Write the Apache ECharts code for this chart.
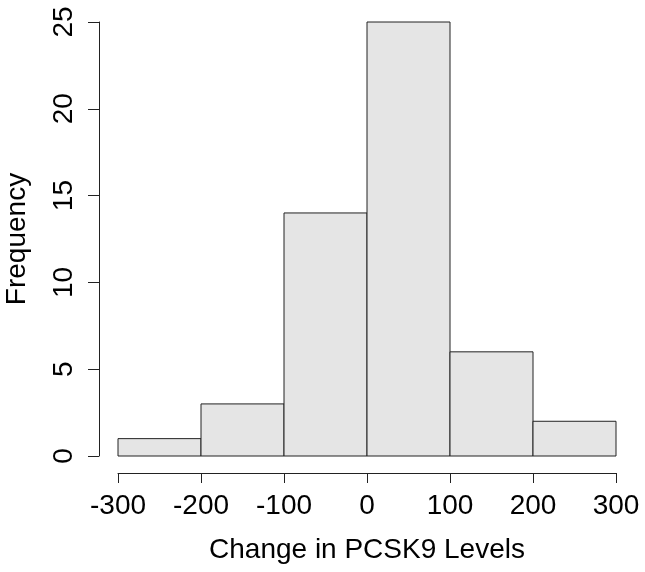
<!DOCTYPE html>
<html>
<head>
<meta charset="utf-8">
<script src="https://cdn.jsdelivr.net/npm/echarts@6/dist/echarts.min.js"></script>
<style>
  html, body { margin: 0; padding: 0; background: #fff; }
  #chart { width: 645px; height: 572px; }
</style>
</head>
<body>
<div id="chart"></div>
<script>
// histogram bins (lower, upper) and counts
const binStarts = [-300, -200, -100, 0, 100, 200];
const binEnds = [-200, -100, 0, 100, 200, 300];
const counts = [1, 3, 14, 25, 6, 2];

const font = "Liberation Sans, Arial, sans-serif";
const ink = "#222";

const chart = echarts.init(document.getElementById("chart"), null, { renderer: "canvas" });

const bins = binStarts.map((s, i) => [s, binEnds[i], counts[i]]);

chart.setOption({
  animation: false,
  backgroundColor: "#fff",
  grid: { left: 118, right: 29, top: 22, bottom: 116, containLabel: false, outerBoundsMode: "none" },
  xAxis: {
    type: "value",
    min: -300,
    max: 300,
    interval: 100,
    offset: 17,
    name: "Change in PCSK9 Levels",
    nameLocation: "middle",
    nameGap: 63,
    nameTextStyle: { color: "#000", fontSize: 28, fontFamily: font },
    axisLine: { show: true, onZero: false, lineStyle: { color: ink, width: 1 } },
    axisTick: { show: true, length: 10, lineStyle: { color: ink } },
    axisLabel: { color: "#000", fontSize: 28, fontFamily: font, margin: 19 },
    splitLine: { show: false },
  },
  yAxis: {
    type: "value",
    min: 0,
    max: 25,
    interval: 5,
    offset: 19,
    name: "Frequency",
    nameLocation: "middle",
    nameGap: 68,
    nameTextStyle: { color: "#000", fontSize: 28, fontFamily: font },
    axisLine: { show: true, onZero: false, lineStyle: { color: ink, width: 1 } },
    axisTick: { show: true, length: 11, lineStyle: { color: ink } },
    axisLabel: { color: "#000", fontSize: 28, fontFamily: font, rotate: 90, margin: 21 },
    splitLine: { show: false },
  },
  series: [
    {
      type: "custom",
      data: bins,
      encode: { x: [0, 1], y: 2 },
      renderItem: function (params, api) {
        const p0 = api.coord([api.value(0), api.value(2)]);
        const p1 = api.coord([api.value(1), 0]);
        return {
          type: "rect",
          shape: { x: p0[0], y: p0[1], width: p1[0] - p0[0], height: p1[1] - p0[1] },
          style: { fill: "#e5e5e5", stroke: ink, lineWidth: 1 },
        };
      },
    },
  ],
});
</script>
</body>
</html>
